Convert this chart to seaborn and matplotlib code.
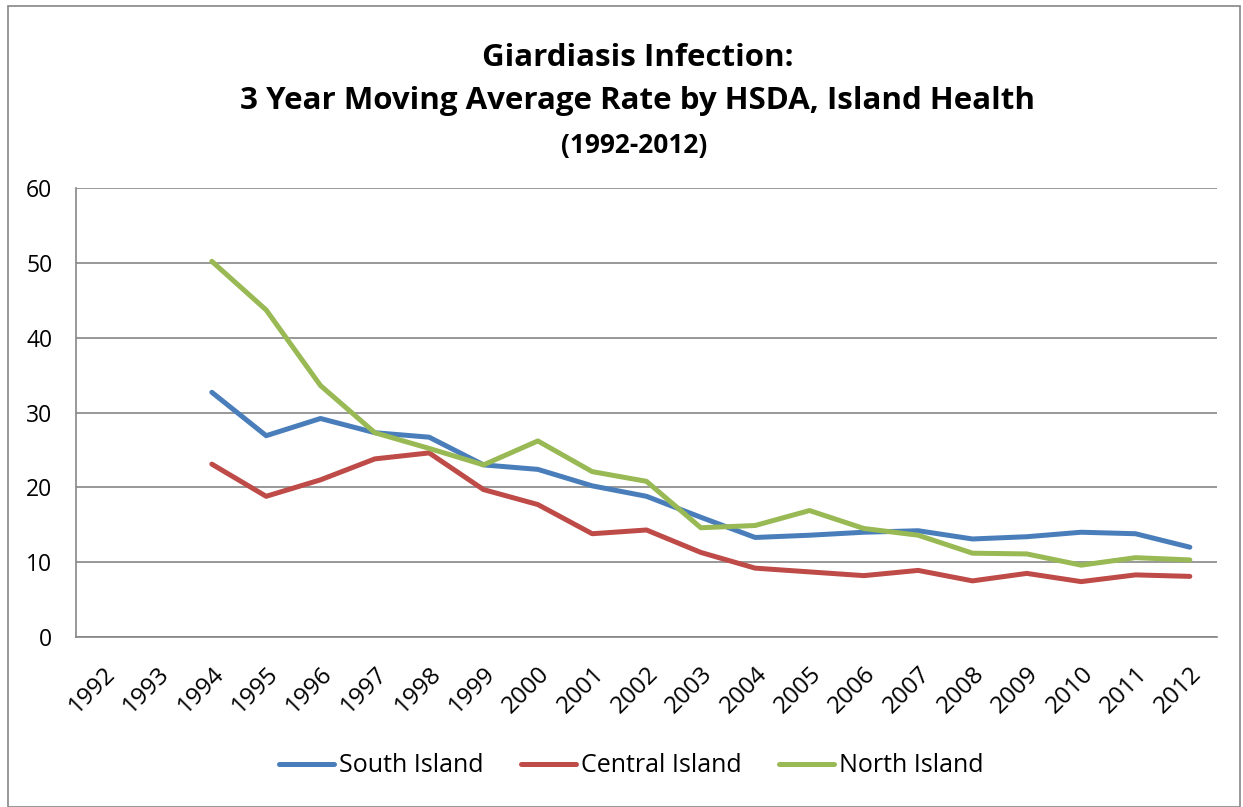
import numpy as np
import pandas as pd
import matplotlib
matplotlib.use("Agg")
import matplotlib.pyplot as plt
import seaborn as sns

years = list(range(1992, 2013))
south = [np.nan, np.nan, 32.7, 26.9, 29.2, 27.3, 26.7, 23.0, 22.4, 20.2, 18.8,
         16.0, 13.3, 13.6, 14.0, 14.2, 13.1, 13.4, 14.0, 13.8, 12.0]
central = [np.nan, np.nan, 23.1, 18.8, 21.0, 23.8, 24.6, 19.7, 17.7, 13.8, 14.3,
           11.3, 9.2, 8.7, 8.2, 8.9, 7.5, 8.5, 7.4, 8.3, 8.1]
north = [np.nan, np.nan, 50.2, 43.7, 33.6, 27.3, 25.2, 23.0, 26.2, 22.1, 20.8,
         14.6, 14.9, 16.9, 14.5, 13.6, 11.2, 11.1, 9.6, 10.6, 10.3]
series = ["South Island", "Central Island", "North Island"]
colors = ["#4A7EBB", "#BE4B48", "#98B954"]

df = pd.DataFrame({"year": years, series[0]: south, series[1]: central, series[2]: north})
long = df.melt(id_vars="year", var_name="region", value_name="rate").dropna()

sns.set_style("white")
plt.rcParams["font.family"] = ["Open Sans", "DejaVu Sans"]
plt.rcParams["text.color"] = "black"
plt.rcParams["xtick.labelcolor"] = "black"
plt.rcParams["ytick.labelcolor"] = "black"

fig = plt.figure(figsize=(12.43, 8.07), dpi=100)
ax = fig.add_axes([76 / 1243, 1 - 637 / 807, (1217 - 76) / 1243, (637 - 188) / 807])

sns.lineplot(data=long, x="year", y="rate", hue="region", hue_order=series,
             palette=colors, linewidth=3.6, ax=ax, legend=False)

ax.set_xlim(1991.5, 2012.5)
ax.set_ylim(0, 60)
ax.set_yticks(range(0, 61, 10))
ax.yaxis.grid(True, color="#868686", linewidth=1.2)
ax.set_axisbelow(True)
for s in ["top", "right"]:
    ax.spines[s].set_visible(False)
for s in ["left", "bottom"]:
    ax.spines[s].set_color("#868686")
    ax.spines[s].set_linewidth(1.2)

ax.set_xticks(years)
ax.set_xticklabels([str(y) for y in years], rotation=45, ha="right",
                   rotation_mode="anchor", fontsize=17.5, color="black")
ax.set_xticks([y - 0.5 for y in years] + [2012.5], minor=True)
ax.tick_params(axis="x", which="major", length=0, pad=18)
ax.tick_params(axis="x", which="minor", length=6.5, color="#868686", width=1.2)
ax.tick_params(axis="y", length=6, color="#868686", width=1.2, labelsize=16.5,
               pad=11, labelcolor="black")
ax.set_xlabel("")
ax.set_ylabel("")

fig.text(0.513, 1 - 58 / 807, "Giardiasis Infection:", ha="center", va="center",
         fontsize=22.5, fontweight="bold", color="black")
fig.text(0.513, 1 - 101 / 807, "3 Year Moving Average Rate by HSDA, Island Health",
         ha="center", va="center", fontsize=22.5, fontweight="bold", color="black")
fig.text(0.51, 1 - 145 / 807, "(1992-2012)", ha="center", va="center",
         fontsize=19, fontweight="bold", color="black")

handles = [plt.Line2D([], [], color=c, linewidth=3.6) for c in colors]
fig.legend(handles, series, loc="center", bbox_to_anchor=(0.508, 1 - 766 / 807),
           ncol=3, frameon=False, fontsize=18, handlelength=2.2,
           handletextpad=0.2, columnspacing=1.5, labelcolor="black")

border = plt.Rectangle((8 / 1243, 0.0), 1 - 11 / 1243, 1 - 6 / 807,
                       transform=fig.transFigure, fill=False,
                       edgecolor="#868686", linewidth=1.2)
fig.patches.append(border)

fig.savefig("out.png", dpi=100)
